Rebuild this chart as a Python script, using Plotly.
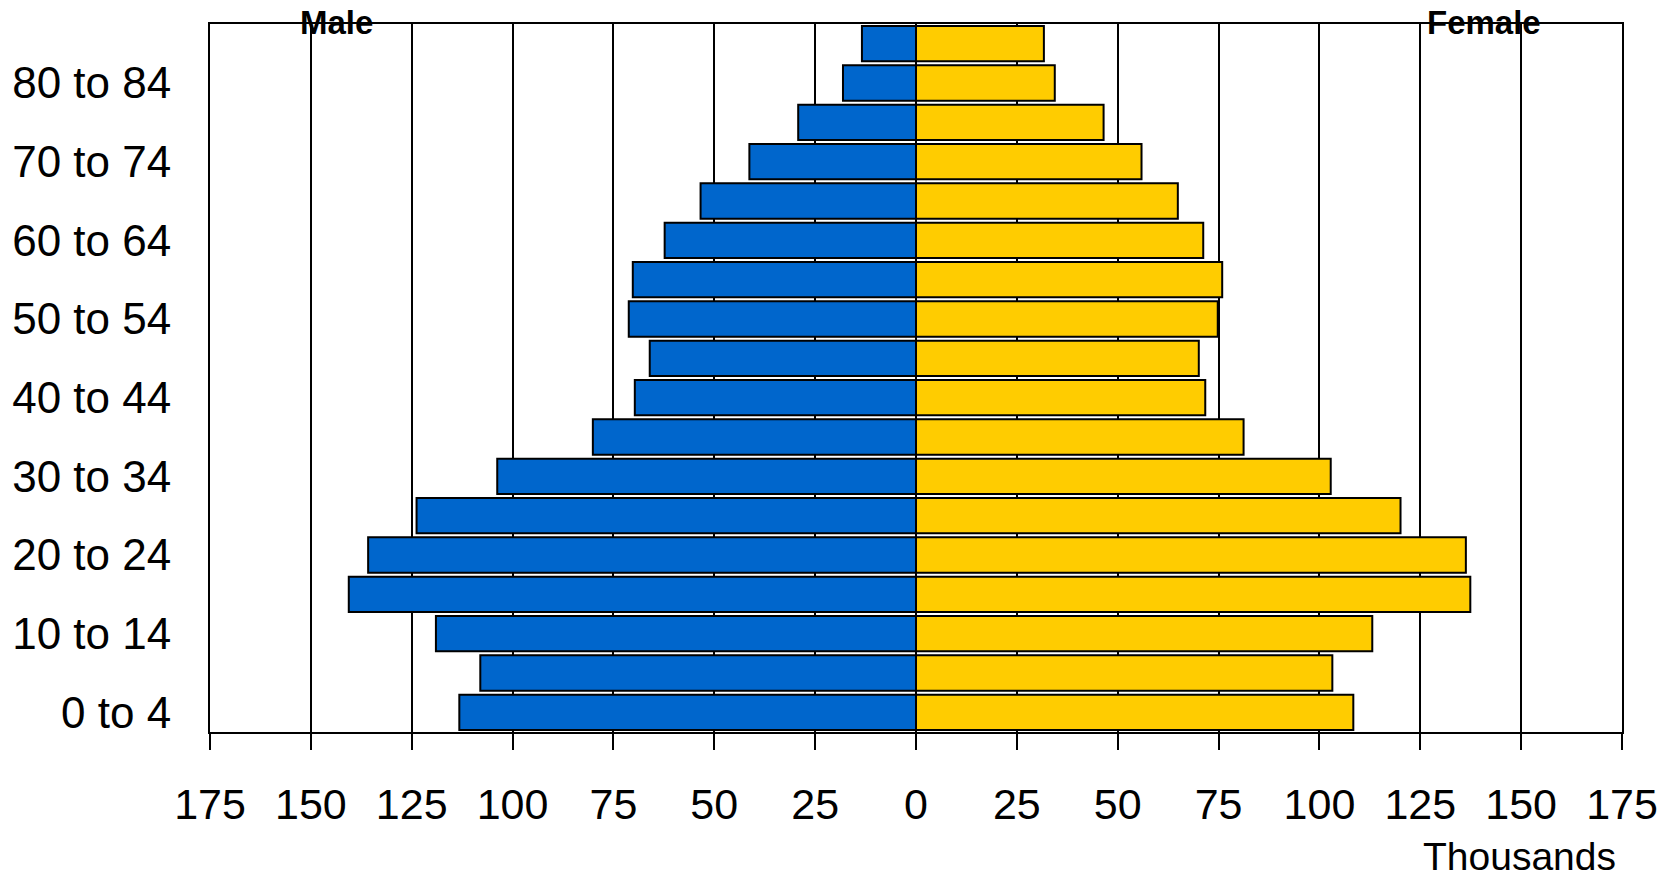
import plotly.graph_objects as go

# Age bands, youngest first
age_groups = ["0 to 4", "5 to 9", "10 to 14", "15 to 19", "20 to 24", "25 to 29",
              "30 to 34", "35 to 39", "40 to 44", "45 to 49", "50 to 54", "55 to 59",
              "60 to 64", "65 to 69", "70 to 74", "75 to 79", "80 to 84", "85 and over"]

# Population in thousands
male = [113.2, 108.0, 119.0, 140.6, 135.8, 123.8, 103.8, 80.1, 69.7, 66.0,
        71.2, 70.2, 62.3, 53.4, 41.3, 29.2, 18.1, 13.4]
female = [108.4, 103.2, 113.1, 137.4, 136.3, 120.1, 102.8, 81.2, 71.7, 70.1,
          74.8, 75.9, 71.2, 64.9, 55.9, 46.5, 34.4, 31.7]

x_ticks = [-175, -150, -125, -100, -75, -50, -25, 0, 25, 50, 75, 100, 125, 150, 175]
x_tick_text = [str(abs(v)) for v in x_ticks]
y_ticks = age_groups[0:17:2]

FONT = "Liberation Sans, Arial, sans-serif"

fig = go.Figure()
fig.add_trace(go.Bar(
    y=age_groups, x=[-v for v in male], orientation="h", name="Male",
    marker=dict(color="#0066CC", line=dict(color="black", width=2)),
))
fig.add_trace(go.Bar(
    y=age_groups, x=female, orientation="h", name="Female",
    marker=dict(color="#FFCC00", line=dict(color="black", width=2)),
))

fig.update_layout(
    width=1663, height=879,
    margin=dict(l=210, r=41, t=24, b=147, autoexpand=False),
    barmode="overlay", bargap=0.1,
    plot_bgcolor="white", paper_bgcolor="white",
    showlegend=False,
    font=dict(family=FONT, color="black"),
)

fig.update_xaxes(
    range=[-175, 175], tickvals=x_ticks, ticktext=x_tick_text,
    showgrid=True, gridcolor="black", gridwidth=1.5,
    zeroline=False, automargin=False,
    showline=True, linecolor="black", linewidth=2, mirror=True,
    ticks="outside", ticklen=16, tickwidth=1.5, tickcolor="black",
    tickfont=dict(size=43, family=FONT),
    ticklabelstandoff=17,
)
fig.update_yaxes(
    range=[-0.5, 17.5], type="category",
    tickvals=y_ticks, ticktext=y_ticks,
    showgrid=False, zeroline=False, automargin=False,
    showline=True, linecolor="black", linewidth=2, mirror=True,
    ticks="", tickfont=dict(size=44, family=FONT),
    ticklabelstandoff=28,
)

fig.add_annotation(text="<b>Male</b>", xref="paper", yref="paper",
                   x=0.0893, y=1, xanchor="center", yanchor="middle", yshift=2,
                   showarrow=False, font=dict(size=33, family=FONT, color="black"))
fig.add_annotation(text="<b>Female</b>", xref="paper", yref="paper",
                   x=0.9025, y=1, xanchor="center", yanchor="middle", yshift=2,
                   showarrow=False, font=dict(size=33, family=FONT, color="black"))
fig.add_annotation(text="Thousands", xref="paper", yref="paper",
                   x=0.997, y=-0.2053, xanchor="right", yanchor="bottom", yshift=-3,
                   showarrow=False, font=dict(size=39, family=FONT, color="black"))

fig.write_html("out.html")
